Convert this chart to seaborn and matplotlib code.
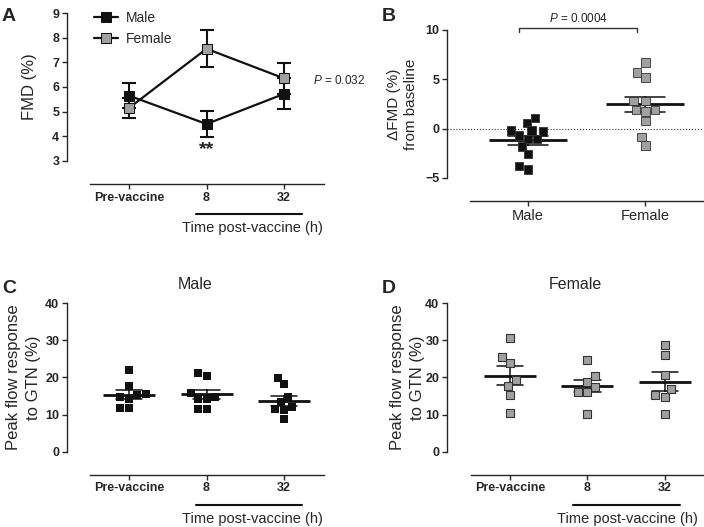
import numpy as np
import pandas as pd
import seaborn as sns
import matplotlib.pyplot as plt
from matplotlib import transforms

# values
times = ['Pre-vaccine', '8', '32']
sexes = ['Male', 'Female']

fmd_male = [5.65, 4.5, 5.72]
fmd_male_sem = [0.5, 0.53, 0.63]
fmd_female = [5.15, 7.55, 6.35]
fmd_female_sem = [0.4, 0.75, 0.63]

dfmd_male = [1.1, 0.6, -0.2, -0.7, -0.3, -0.2, -1.05, -1.05, -1.8, -2.55, -4.15, -3.8]
dfmd_female = [6.7, 5.7, 5.2, 2.8, 2.8, 1.9, 1.75, 1.9, 0.75, -0.85, -1.7]

gtn_male_pre = [22.1, 17.7, 15.2, 14.2, 14.6, 15.5, 11.7, 11.7]
gtn_male_8 = [20.4, 21.2, 14.6, 14.2, 14.3, 15.8, 11.5, 11.5]
gtn_male_32 = [19.9, 18.2, 14.7, 13.4, 11.9, 11.6, 11.3, 8.8]
gtn_female_pre = [30.6, 25.5, 23.8, 19.3, 17.7, 15.2, 10.5]
gtn_female_8 = [24.6, 20.3, 18.8, 17.5, 16.1, 16.0, 10.1]
gtn_female_32 = [28.6, 26.0, 20.6, 16.8, 15.3, 14.7, 10.1]

BLACK = '#111111'
GREY = '#a0a0a0'

sns.set_style('ticks')
plt.rcParams['font.family'] = ['Liberation Sans', 'DejaVu Sans']
plt.rcParams['mathtext.fontset'] = 'custom'
plt.rcParams['mathtext.it'] = 'Liberation Sans:italic'
plt.rcParams['mathtext.rm'] = 'Liberation Sans'
plt.rcParams['axes.linewidth'] = 1.0

W, H = 704, 527
fig = plt.figure(figsize=(W / 100, H / 100), dpi=100)


def add_axes(l, t, r, b):
    return fig.add_axes([l / W, 1 - b / H, (r - l) / W, (b - t) / H])


def style(ax, ylim, yticks, xlim, xbounds):
    ax.set_ylim(ylim)
    ax.set_yticks(yticks)
    ax.set_xlim(xlim)
    for s in ['top', 'right']:
        ax.spines[s].set_visible(False)
    ax.spines['left'].set_bounds(*ylim)
    ax.spines['bottom'].set_position(('outward', 16.5))
    ax.spines['bottom'].set_bounds(*xbounds)
    ax.tick_params(length=3.5, width=1, labelsize=9, pad=2)
    for lbl in ax.get_yticklabels():
        lbl.set_fontweight('bold')
    ax.set_xlabel('')


def time_axis(ax, x0, x1, xc):
    tr = transforms.blended_transform_factory(ax.transData, ax.transAxes)
    ax.plot([x0, x1], [-0.36, -0.36], color=BLACK, lw=1.5, transform=tr, clip_on=False)
    ax.text(xc, -0.455, 'Time post-vaccine (h)', transform=tr, ha='center', va='center', fontsize=10.5)
    ax.set_xticks(range(len(times)))
    ax.set_xticklabels(times, fontweight='bold', fontsize=9)


def scatter_panel(ax, values, counts, fill, mean_size):
    df = pd.DataFrame({'time': np.repeat(times, counts), 'value': values})
    if fill == BLACK:
        sns.swarmplot(data=df, x='time', y='value', order=times, color=BLACK, marker='s', size=6, ax=ax)
    else:
        sns.swarmplot(data=df, x='time', y='value', order=times, color=fill, marker='s', size=6,
                      edgecolor='#333333', linewidth=0.8, ax=ax)
    sns.pointplot(data=df, x='time', y='value', order=times, errorbar='se', capsize=0.34,
                  linestyle='none', marker='_', markersize=mean_size, markeredgewidth=2,
                  color=BLACK, err_kws={'linewidth': 1.1}, ax=ax)


# ---- A: FMD time course
axA = add_axes(67, 13, 324, 161)
pos = np.arange(len(times))
axA.errorbar(pos, fmd_male, yerr=fmd_male_sem, fmt='none', ecolor=BLACK, elinewidth=1.5,
             capsize=5, capthick=1.5, zorder=1)
axA.errorbar(pos, fmd_female, yerr=fmd_female_sem, fmt='none', ecolor=BLACK, elinewidth=1.5,
             capsize=5, capthick=1.5, zorder=1)
sns.lineplot(x=pos, y=fmd_male, color=BLACK, marker='s', markersize=7.5, markerfacecolor=BLACK,
             markeredgecolor=BLACK, linewidth=1.6, label='Male', ax=axA)
sns.lineplot(x=pos, y=fmd_female, color=BLACK, marker='s', markersize=7.5, markerfacecolor=GREY,
             markeredgecolor=BLACK, linewidth=1.6, label='Female', ax=axA)
style(axA, (3, 9), range(3, 10), (-0.8, 2.516), (-0.5, 2.516))
time_axis(axA, 0.86, 2.23, 1.59)
axA.set_ylabel('FMD (%)', fontsize=12)
axA.yaxis.set_label_coords(-0.117, 0.5)
axA.legend(loc='upper left', bbox_to_anchor=(0.085, 1.05), frameon=False, fontsize=10,
           handlelength=1.7, handletextpad=0.6, labelspacing=0.5, borderaxespad=0)
axA.text(1, 3.45, '**', ha='center', va='center', fontsize=14, fontweight='bold')
axA.text(2.37, 6.27, '$P$ = 0.032', ha='left', va='center', fontsize=8.5, clip_on=False)

# ---- B: change in FMD
axB = add_axes(447, 30, 703, 178)
df_b = pd.DataFrame({'sex': ['Male'] * len(dfmd_male) + ['Female'] * len(dfmd_female),
                     'dfmd': dfmd_male + dfmd_female})
axB.axhline(0, ls=':', lw=0.8, color='#333333', zorder=0)
sns.swarmplot(data=df_b, x='sex', y='dfmd', order=sexes, hue='sex',
              palette={'Male': BLACK, 'Female': GREY}, marker='s', size=6,
              edgecolor='#333333', linewidth=0.6, legend=False, ax=axB)
sns.pointplot(data=df_b, x='sex', y='dfmd', order=sexes, errorbar='se', capsize=0.34,
              linestyle='none', marker='_', markersize=56, markeredgewidth=2,
              color=BLACK, err_kws={'linewidth': 1.1}, ax=axB)
style(axB, (-5, 10), [-5, 0, 5, 10], (-0.686, 1.49), (-0.49, 1.49))
axB.set_xticks([0, 1])
axB.set_xticklabels(sexes, fontsize=10.5)
axB.set_ylabel('ΔFMD (%)\nfrom baseline', fontsize=11, linespacing=1.25)
axB.yaxis.set_label_coords(-0.115, 0.5)
axB.plot([-0.07, -0.07, 0.93, 0.93], [9.8, 10.2, 10.2, 9.8], color='#333333', lw=1, clip_on=False)
axB.text(0.43, 11.2, '$P$ = 0.0004', ha='center', va='center', fontsize=8.5, clip_on=False)

# ---- C: GTN male
axC = add_axes(67, 303, 324, 451.7)
scatter_panel(axC, gtn_male_pre + gtn_male_8 + gtn_male_32,
              [len(gtn_male_pre), len(gtn_male_8), len(gtn_male_32)], BLACK, 37)
style(axC, (0, 40), [0, 10, 20, 30, 40], (-0.8, 2.516), (-0.5, 2.516))
time_axis(axC, 0.86, 2.23, 1.59)
axC.set_ylabel('Peak flow response\nto GTN (%)', fontsize=12, linespacing=1.4)
axC.yaxis.set_label_coords(-0.1, 0.5)
axC.set_title('Male', fontsize=11.5, pad=10)

# ---- D: GTN female
axD = add_axes(447, 303, 703, 451.7)
scatter_panel(axD, gtn_female_pre + gtn_female_8 + gtn_female_32,
              [len(gtn_female_pre), len(gtn_female_8), len(gtn_female_32)], GREY, 37)
style(axD, (0, 40), [0, 10, 20, 30, 40], (-0.81, 2.49), (-0.5, 2.49))
time_axis(axD, 0.81, 2.19, 1.52)
axD.set_ylabel('Peak flow response\nto GTN (%)', fontsize=12, linespacing=1.4)
axD.yaxis.set_label_coords(-0.085, 0.5)
axD.set_title('Female', fontsize=11.5, pad=10)

# panel letters
for x, y, letter in [(2, 8, 'A'), (382, 8, 'B'), (2, 280, 'C'), (382, 280, 'D')]:
    fig.text(x / W, 1 - y / H, letter, fontsize=14, fontweight='bold', va='top', ha='left')

fig.savefig('out.png', dpi=100)
